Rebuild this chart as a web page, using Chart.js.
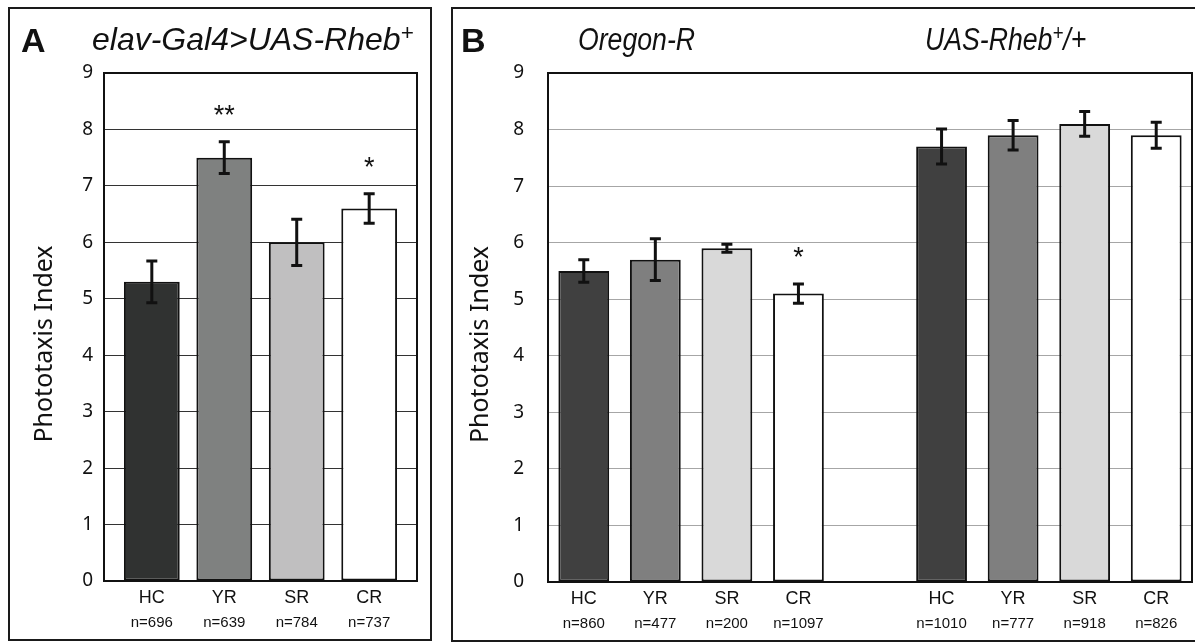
<!DOCTYPE html>
<html>
<head>
<meta charset="utf-8">
<script src="https://cdn.jsdelivr.net/npm/chart.js@4.4.1/dist/chart.umd.min.js"></script>
<style>
    body { margin: 0; background: #fff; width: 1195px; height: 643px; overflow: hidden; position: relative;
           font-family: "Liberation Sans", Arial, sans-serif; color: #111; }
    .panel { position: absolute; border: 2px solid #1a1a1a; box-sizing: border-box; }
    #panelA { left: 8px; top: 7px; width: 424px; height: 634px; }
    #panelB { left: 451px; top: 7px; width: 760px; height: 635px; }
    .panel canvas { position: absolute; left: 0; top: 0; }
    .letter { position: absolute; font-weight: bold; font-size: 34px; line-height: 34px; }
    .ttl { position: absolute; font-style: italic; font-size: 32px; line-height: 32px; white-space: nowrap; }
    .narrow { transform: scaleX(0.86); transform-origin: left center; font-size: 31px; }
    sup { font-size: 0.7em; line-height: 0; vertical-align: 0.45em; }
</style>
</head>
<body>
<div class="panel" id="panelA"><canvas id="chartA" width="420" height="630"></canvas></div>
<div class="panel" id="panelB"><canvas id="chartB" width="756" height="631"></canvas></div>

<div class="letter" style="left:21px; top:23px;">A</div>
<div class="ttl" style="left:92px; top:23px;">elav-Gal4&gt;UAS-Rheb<sup>+</sup></div>
<div class="letter" style="left:461px; top:23px;">B</div>
<div class="ttl narrow" style="left:578px; top:24px;">Oregon-R</div>
<div class="ttl narrow" style="left:925px; top:24px;">UAS-Rheb<sup>+</sup>/+</div>

<script>
// Data
const categories = ['HC', 'YR', 'SR', 'CR'];
const yTicks = [0, 1, 2, 3, 4, 5, 6, 7, 8, 9];
const yTitle = 'Phototaxis Index';

const elavValues = [5.3, 7.5, 6.0, 6.6];
const elavErrors = [0.37, 0.28, 0.41, 0.26];
const elavCounts = ['n=696', 'n=639', 'n=784', 'n=737'];
const elavStars = ['', '**', '', '*'];

const oregonValues = [5.5, 5.7, 5.9, 5.1];
const oregonErrors = [0.2, 0.37, 0.07, 0.17];
const oregonCounts = ['n=860', 'n=477', 'n=200', 'n=1097'];
const oregonStars = ['', '', '', '*'];

const uasValues = [7.7, 7.9, 8.1, 7.9];
const uasErrors = [0.31, 0.26, 0.22, 0.23];
const uasCounts = ['n=1010', 'n=777', 'n=918', 'n=826'];
const uasStars = ['', '', '', ''];

// Bar fills
const colorsA = ['#303231', '#7f8180', '#c0bfc0', '#ffffff'];
const colorsB = ['#404040', '#7f7f7f', '#d9d9d9', '#ffffff'];

const tickFont = { family: 'Noto Sans', size: 19 };

// error bars, significance stars, y title and the plot frame
const decorPlugin = {
    id: 'decor',
    afterDatasetsDraw(chart) {
        const opts = chart.options.plugins.decor;
        const ctx = chart.ctx;
        const y = chart.scales.y;
        const meta = chart.getDatasetMeta(0);
        ctx.save();
        ctx.strokeStyle = '#111';
        ctx.lineWidth = 3;
        meta.data.forEach((bar, i) => {
            const v = opts.values[i];
            const e = opts.errors[i];
            const top = y.getPixelForValue(v + e);
            const bot = y.getPixelForValue(v - e);
            ctx.beginPath();
            ctx.moveTo(bar.x, top);
            ctx.lineTo(bar.x, bot);
            ctx.moveTo(bar.x - 5.5, top);
            ctx.lineTo(bar.x + 5.5, top);
            ctx.moveTo(bar.x - 5.5, bot);
            ctx.lineTo(bar.x + 5.5, bot);
            ctx.stroke();
            if (opts.stars[i]) {
                ctx.fillStyle = '#111';
                ctx.font = '27px "Liberation Sans"';
                ctx.textAlign = 'center';
                ctx.textBaseline = 'alphabetic';
                ctx.fillText(opts.stars[i], bar.x, top - 18);
            }
        });
        const a = chart.chartArea;
        ctx.lineWidth = 2;
        ctx.strokeStyle = '#111';
        ctx.strokeRect(a.left, a.top, a.right - a.left, a.bottom - a.top);

        // axis title, sitting a little below the middle of the plot like the original
        ctx.translate(opts.titleX, (a.top + a.bottom) / 2 + 17);
        ctx.rotate(-Math.PI / 2);
        ctx.fillStyle = '#111';
        ctx.font = '25px "Noto Sans"';
        ctx.textAlign = 'center';
        ctx.textBaseline = 'middle';
        ctx.fillText(yTitle, 0, 0);
        ctx.restore();
    }
};

function makeChart(id, cfg) {
    const labelAt = (list) => (value) => {
        const idx = cfg.positions.indexOf(value);
        return idx >= 0 ? list[idx] : '';
    };
    const fixTicks = (axis) => { axis.ticks = cfg.positions.map(p => ({ value: p })); };

    return new Chart(document.getElementById(id), {
        type: 'bar',
        data: {
            datasets: [{
                data: cfg.values.map((v, i) => ({ x: cfg.positions[i], y: v })),
                backgroundColor: cfg.colors,
                borderColor: '#111',
                borderWidth: 2,
                borderSkipped: false,
                barPercentage: cfg.barPct,
                categoryPercentage: 1
            }]
        },
        options: {
            responsive: false,
            animation: false,
            layout: { padding: { left: 0, right: cfg.padRight, top: 64, bottom: 0 } },
            plugins: {
                legend: { display: false },
                tooltip: { enabled: false },
                decor: { values: cfg.values, errors: cfg.errors, stars: cfg.stars, titleX: cfg.titleX }
            },
            scales: {
                x: {
                    type: 'linear',
                    offset: false,
                    min: cfg.xMin,
                    max: cfg.xMax,
                    weight: 0,
                    grid: { display: false, drawTicks: false, offset: false },
                    border: { display: false },
                    afterBuildTicks: fixTicks,
                    afterFit: (s) => { s.height = 26; },
                    ticks: {
                        padding: 6,
                        color: '#111',
                        autoSkip: false,
                        maxRotation: 0,
                        font: { family: 'Liberation Sans', size: 18 },
                        callback: labelAt(cfg.labels)
                    }
                },
                x2: {
                    type: 'linear',
                    position: 'bottom',
                    offset: false,
                    min: cfg.xMin,
                    max: cfg.xMax,
                    weight: 1,
                    grid: { display: false, drawTicks: false, offset: false },
                    border: { display: false },
                    afterBuildTicks: fixTicks,
                    afterFit: (s) => { s.height = 32; },
                    ticks: {
                        padding: 7,
                        color: '#111',
                        autoSkip: false,
                        maxRotation: 0,
                        font: { family: 'Liberation Sans', size: 15 },
                        callback: labelAt(cfg.counts)
                    }
                },
                y: {
                    min: 0,
                    max: 9,
                    afterBuildTicks: (axis) => { axis.ticks = yTicks.map(v => ({ value: v })); },
                    afterFit: (s) => { s.width = cfg.yWidth; },
                    grid: { color: cfg.gridColor, lineWidth: 1, drawTicks: false },
                    border: { display: false },
                    ticks: { padding: cfg.tickPad, color: '#111', font: tickFont },
                    title: { display: false }
                }
            }
        },
        plugins: [decorPlugin]
    });
}

makeChart('chartA', {
    positions: [0, 1, 2, 3],
    values: elavValues,
    errors: elavErrors,
    stars: elavStars,
    labels: categories,
    counts: elavCounts,
    colors: colorsA,
    xMin: -0.66, xMax: 3.66,
    barPct: 0.77,
    padRight: 13,
    yWidth: 94,
    tickPad: 11,
    titleX: 35,
    gridColor: '#333',
});

// Panel B: two genotypes side by side, one empty slot between them
const gap = categories.length + 1;
makeChart('chartB', {
    positions: categories.map((c, i) => i).concat(categories.map((c, i) => i + gap)),
    values: oregonValues.concat(uasValues),
    errors: oregonErrors.concat(uasErrors),
    stars: oregonStars.concat(uasStars),
    labels: categories.concat(categories),
    counts: oregonCounts.concat(uasCounts),
    colors: colorsB.concat(colorsB),
    xMin: -0.5, xMax: gap + categories.length - 0.5,
    barPct: 0.71,
    padRight: 17,
    yWidth: 95,
    tickPad: 24,
    titleX: 28,
    gridColor: '#a6a6a6',
});
</script>
</body>
</html>
